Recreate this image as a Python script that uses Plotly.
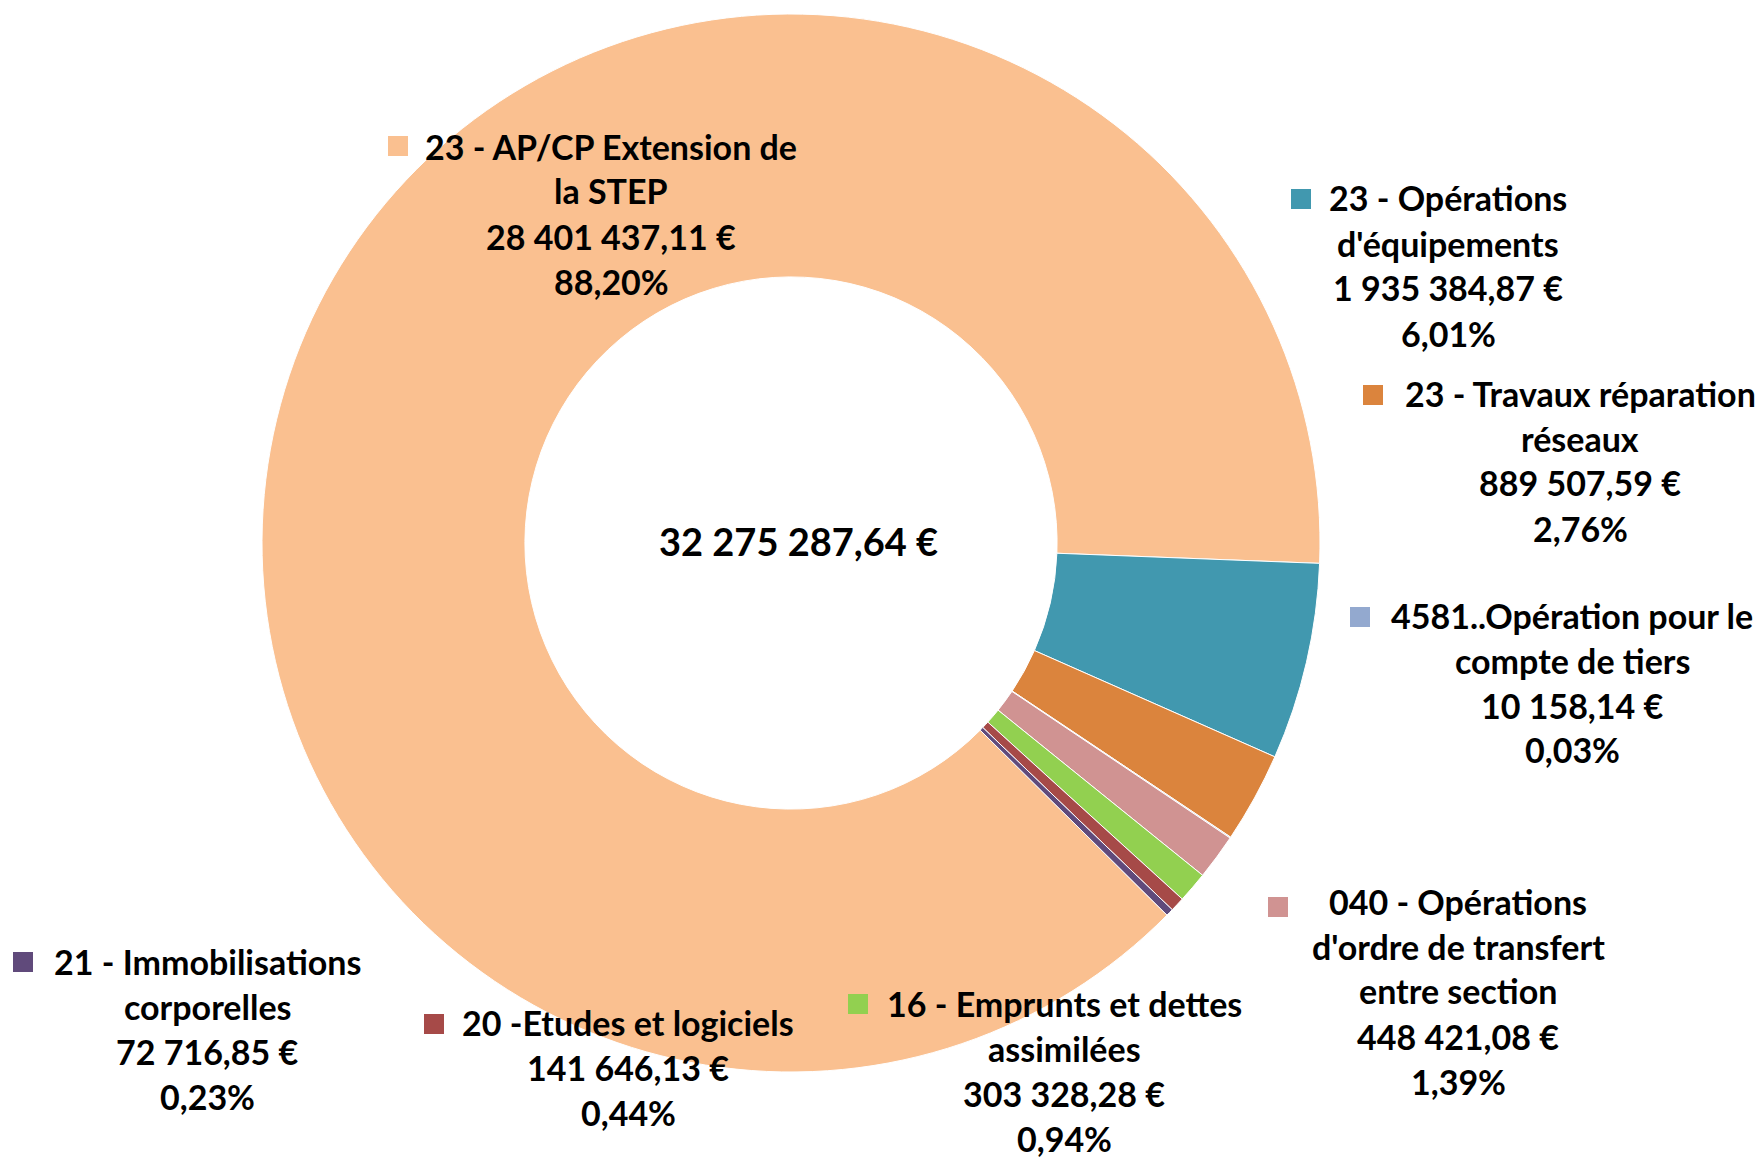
import plotly.graph_objects as go

# chapitres budgétaires (ordre du camembert, sens horaire)
names = [
    "23 - AP/CP Extension de\nla STEP",
    "23 - Opérations\nd'équipements",
    "23 - Travaux réparation\nréseaux",
    "4581..Opération pour le\ncompte de tiers",
    "040 - Opérations\nd'ordre de transfert\nentre section",
    "16 - Emprunts et dettes\nassimilées",
    "20 -Etudes et logiciels",
    "21 - Immobilisations\ncorporelles",
]
values = [28401437.11, 1935384.87, 889507.59, 10158.14, 448421.08, 303328.28, 141646.13, 72716.85]
colors = ["#FAC090", "#4198AF", "#DB843D", "#93A9CF", "#D09392", "#92D050", "#A64A48", "#604A7B"]
total_label = "32 275 287,64 €"

PAGE_W, PAGE_H = 1764, 1159
OFF = 8  # marge du <body> de la page
W, H = PAGE_W - OFF, PAGE_H - OFF
# label blocks: centre x, first line y (page pixels from top-left)
label_pos = [(611, 146), (1448, 198), (1580, 393), (1572, 615),
             (1458, 901), (1064, 1003), (628, 1022), (207, 961)]
# legend keys: left x, top y (page pixels)
key_pos = [(388, 136), (1291, 189), (1363, 385), (1350, 607),
           (1268, 897), (848, 994), (424, 1014), (13, 952)]
key_size = 20
line_gap = 45
font_size = 34


def px(x):
    return (x - OFF) / W


def py(y):
    return 1 - (y - OFF) / H


def fr_money(v):
    s = f"{v:,.2f}".replace(",", " ").replace(".", ",")
    return s + " €"


def fr_pct(p):
    return f"{p * 100:.2f}".replace(".", ",") + "%"


total = sum(values)
cx, cy, r = 791, 543, 529
fig = go.Figure()
fig.add_trace(go.Pie(
    labels=[n.replace("\n", " ") for n in names], values=values, hole=0.503,
    sort=False, direction="clockwise", rotation=134.7,
    marker={"colors": colors, "line": {"color": "white", "width": 1}},
    textinfo="none", hoverinfo="label+value+percent", showlegend=False,
    domain={"x": [px(cx - r), px(cx + r)], "y": [py(cy + r), py(cy - r)]},
))

annotations = []
shapes = []
for name, v, c, (lx, y0), (kx, ky) in zip(names, values, colors, label_pos, key_pos):
    lines = name.split("\n") + [fr_money(v), fr_pct(v / total)]
    for i, ln in enumerate(lines):
        annotations.append(dict(
            x=px(lx), y=py(y0 + i * line_gap), xref="paper", yref="paper",
            text=ln, showarrow=False, xanchor="center", yanchor="middle",
            font={"family": "Lato", "size": font_size, "color": "black", "weight": 700},
        ))
    shapes.append(dict(
        type="rect", xref="paper", yref="paper",
        x0=px(kx), x1=px(kx + key_size), y0=py(ky + key_size), y1=py(ky),
        fillcolor=c, line={"width": 0},
    ))
annotations.append(dict(
    x=px(798), y=py(541), xref="paper", yref="paper", text=total_label,
    showarrow=False, xanchor="center", yanchor="middle",
    font={"family": "Lato", "size": 38, "color": "black", "weight": 700},
))

fig.update_layout(
    width=W, height=H, margin={"l": 0, "r": 0, "t": 0, "b": 0},
    paper_bgcolor="white", plot_bgcolor="white",
    annotations=annotations, shapes=shapes,
)
fig.write_html("out.html")
